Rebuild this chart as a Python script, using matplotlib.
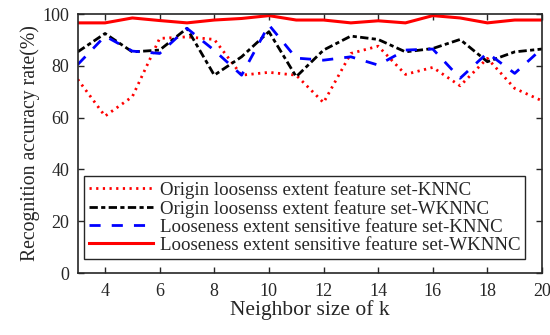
import numpy as np
import matplotlib
matplotlib.use("Agg")
import matplotlib.pyplot as plt

plt.rcParams['font.family'] = ['Liberation Serif', 'DejaVu Serif']
plt.rcParams['mathtext.fontset'] = 'stix'

# ── data ──────────────────────────────────────────────────────────────────────
k = np.arange(3, 21)
origin_knnc = [74.8, 60.6, 68.1, 90.6, 91.2, 90.2, 76.4, 77.5, 76.4, 65.8,
               84.8, 87.6, 76.7, 79.4, 72.3, 82.9, 71.3, 66.5]
origin_wknnc = [85.4, 92.5, 85.4, 86.1, 94.5, 76.4, 83.5, 93.2, 75.8, 86.1,
                91.5, 90.2, 85.4, 86.7, 90.2, 81.6, 85.4, 86.5]
sens_knnc = [80.5, 91.5, 85.7, 84.8, 94.5, 86.0, 76.4, 95.8, 83.0, 82.2,
             83.5, 80.3, 86.1, 86.5, 75.2, 85.0, 77.1, 86.7]
sens_wknnc = [96.6, 96.6, 98.5, 97.5, 96.6, 97.7, 98.3, 99.4, 97.7, 97.7,
              96.6, 97.4, 96.6, 99.4, 98.5, 96.6, 97.7, 97.7]

labels = ['Origin loosenss extent feature set-KNNC',
          'Origin loosenss extent feature set-WKNNC',
          'Looseness extent sensitive feature set-KNNC',
          'Looseness extent sensitive feature set-WKNNC']

txt = '#262626'

# ── figure ────────────────────────────────────────────────────────────────────
fig = plt.figure(figsize=(5.5, 3.35), dpi=100)
ax = fig.add_axes([0.1413, 0.185, 0.8442, 0.773])

ax.plot(k, origin_knnc, color='red', lw=2.0, ls=(0, (0.8, 1.6)), label=labels[0])
ax.plot(k, origin_wknnc, color='black', lw=2.0, ls=(0, (3, 1.2, 1.5, 1.2)), label=labels[1])
ax.plot(k, sens_knnc, color='blue', lw=2.0, ls=(0, (4, 4)), label=labels[2])
ax.plot(k, sens_wknnc, color='red', lw=2.2, ls='-', label=labels[3])

ax.set_xlim(3, 20)
ax.set_ylim(0, 100)
ax.set_xticks(range(4, 21, 2))
ax.set_yticks(range(0, 101, 20))
ax.tick_params(direction='in', top=True, right=True, labelsize=13,
               length=4, width=1, colors=txt, labelcolor=txt)
ax.tick_params(axis='y', pad=6)
ax.tick_params(axis='x', pad=7)
for sp in ax.spines.values():
    sp.set_linewidth(1.2)
    sp.set_color(txt)

ax.set_xlabel('Neighbor size of k', fontsize=15.5, labelpad=0, color=txt)
ax.set_ylabel('Recognition accuracy rate(%)', fontsize=14.2, labelpad=2, color=txt)

leg = ax.legend(loc='lower left', bbox_to_anchor=(0.014, 0.055), fontsize=13.6,
                fancybox=False, framealpha=1, edgecolor=txt,
                handlelength=3.4, handletextpad=0.35, labelspacing=0.05,
                borderpad=0.25, borderaxespad=0)
leg.get_frame().set_linewidth(1.0)
for t in leg.get_texts():
    t.set_color(txt)

fig.savefig('out.png', dpi=100)
